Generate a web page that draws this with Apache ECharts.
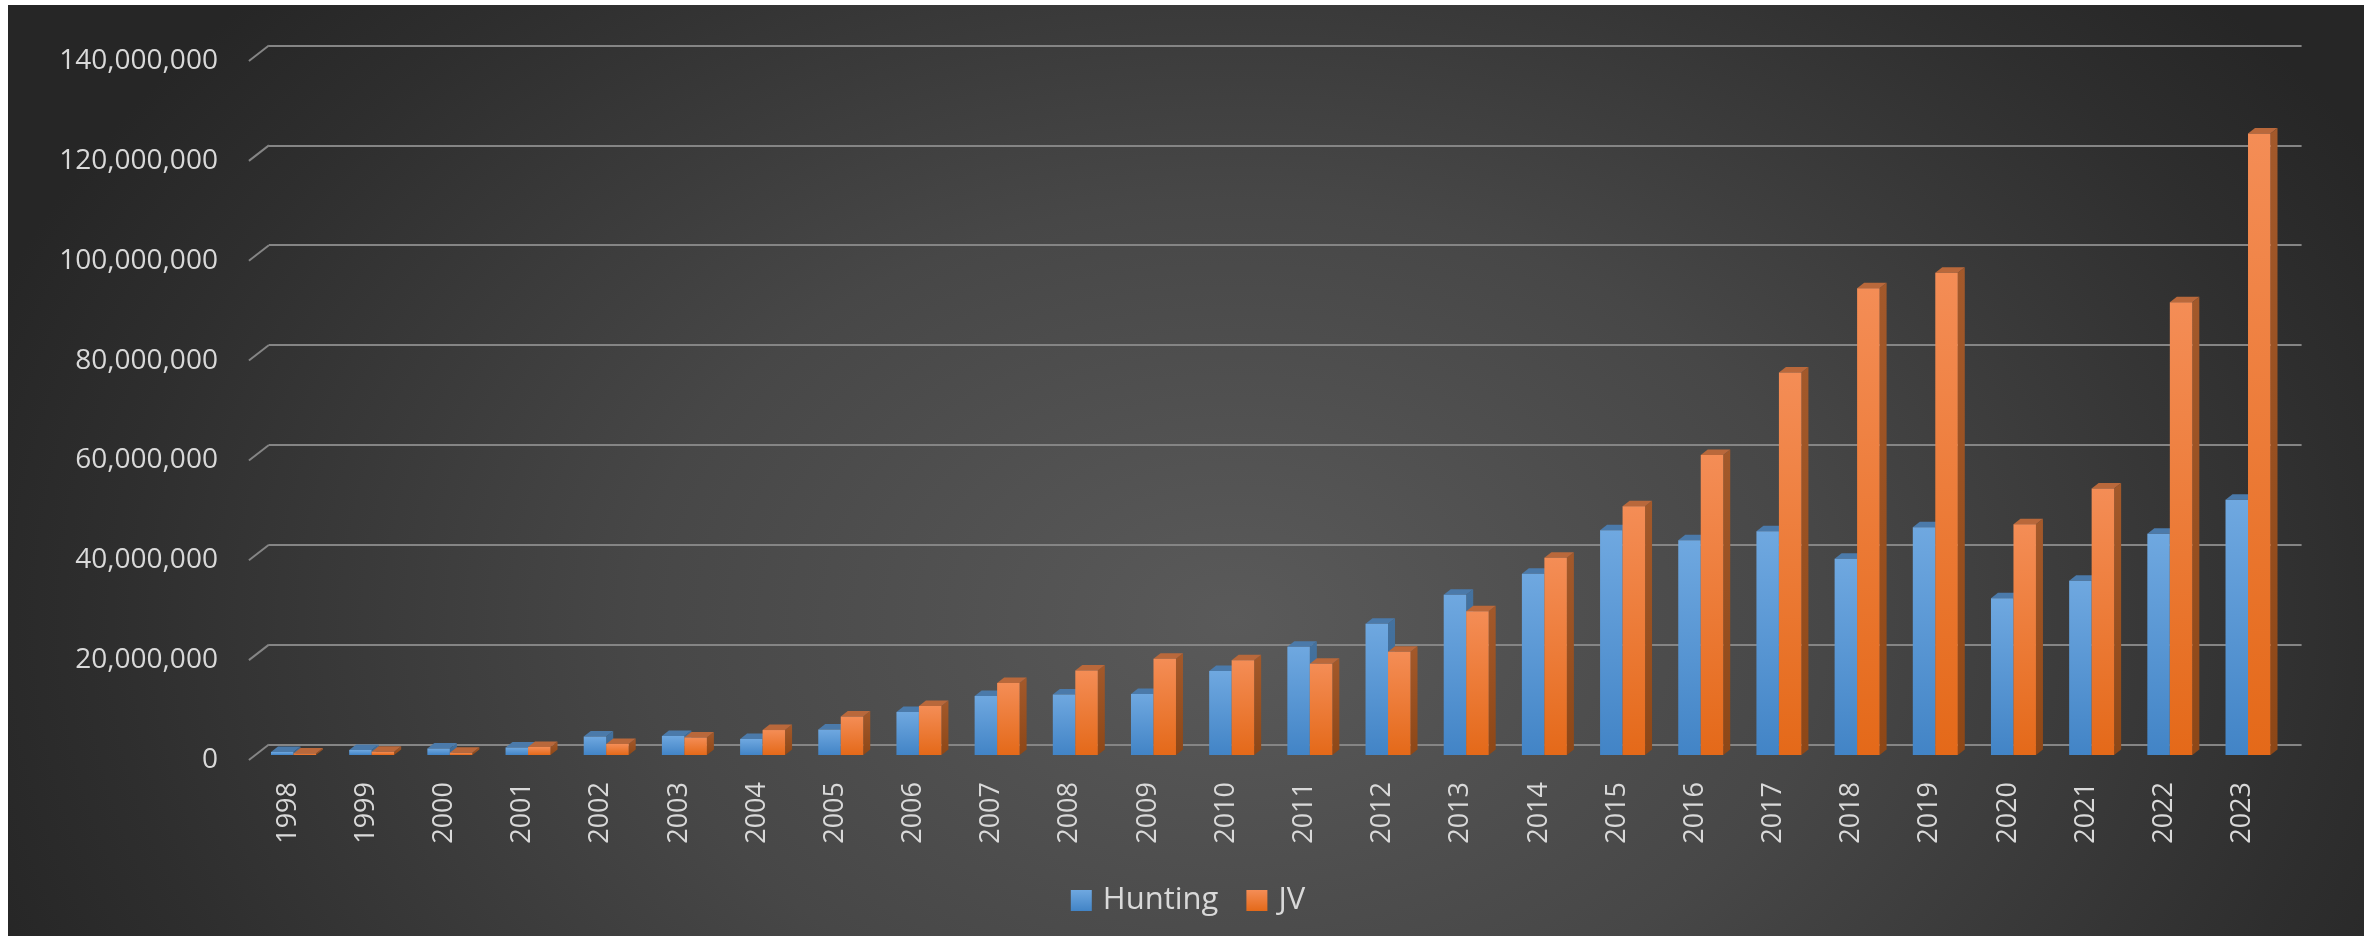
<!DOCTYPE html>
<html>
<head>
<meta charset="utf-8">
<script src="https://cdn.jsdelivr.net/npm/echarts@6/dist/echarts.min.js"></script>
<style>
  html, body { margin: 0; padding: 0; background: #ffffff; }
  #bg { position: absolute; left: 8px; top: 5px; width: 2356px; height: 931px;
        background: radial-gradient(ellipse 56% 100% at 52% 66%, #5a5a5a 0%, #474747 45%, #2e2e2e 85%, #262626 100%); }
  #chart { position: absolute; left: 0; top: 0; width: 2376px; height: 940px; }
</style>
</head>
<body>
<div id="bg"></div>
<div id="chart"></div>
<script>
// ---- data ----
const years = ['1998','1999','2000','2001','2002','2003','2004','2005','2006','2007','2008','2009','2010',
               '2011','2012','2013','2014','2015','2016','2017','2018','2019','2020','2021','2022','2023'];
const hunting = [600000, 1000000, 1300000, 1500000, 3700000, 3800000, 3200000, 5100000, 8600000, 11800000,
                 12100000, 12200000, 16800000, 21700000, 26300000, 32100000, 36300000, 45000000, 43000000,
                 44800000, 39300000, 45600000, 31400000, 34900000, 44300000, 51100000];
const jv = [300000, 650000, 450000, 1600000, 2200000, 3500000, 5000000, 7700000, 9800000, 14400000,
            16900000, 19300000, 19000000, 18300000, 20700000, 28800000, 39500000, 49800000, 60100000,
            76600000, 93500000, 96600000, 46200000, 53400000, 90700000, 124500000];
const yTicks = [0, 20000000, 40000000, 60000000, 80000000, 100000000, 120000000, 140000000];
const seriesNames = ['Hunting', 'JV'];

// ---- style ----
const FONT = 'Open Sans';
const TXT = '#d9d9d9';
const GRIDC = '#858585';
const DX = 7, DY = 5.5;          // bar depth offset
const BACK_DX = 20, BACK_DY = 15.5;
const palette = [
  { front: ['#6fa8e0', '#4284c6'], top: '#4b7aaa', side: ['#44729f', '#3a6591'] },
  { front: ['#f48d56', '#e46919'], top: '#b9683b', side: ['#a3592b', '#8d4717'] }
];
const grad = (a, b) => new echarts.graphic.LinearGradient(0, 0, 0, 1, [{ offset: 0, color: a }, { offset: 1, color: b }]);

const chart = echarts.init(document.getElementById('chart'), null, { renderer: 'canvas' });

function barRender(sIdx) {
  return function (params, api) {
    const i = api.value(0), v = api.value(1);
    const top = api.coord([i, v]);
    const base = api.coord([i, 0]);
    const bw = api.size([1, 0])[0] * 0.2877;
    const x = top[0] + (sIdx === 0 ? -bw : 0);
    const yt = top[1], yb = base[1];
    const p = palette[sIdx];
    return {
      type: 'group',
      children: [
        { type: 'polygon', shape: { points: [[x + bw, yt], [x + bw + DX, yt - DY], [x + bw + DX, yb - DY], [x + bw, yb]] },
          style: { fill: grad(p.side[0], p.side[1]) } },
        { type: 'polygon', shape: { points: [[x, yt], [x + DX, yt - DY], [x + bw + DX, yt - DY], [x + bw, yt]] },
          style: { fill: p.top } },
        { type: 'rect', shape: { x: x, y: yt, width: bw, height: Math.max(yb - yt, 0) },
          style: { fill: grad(p.front[0], p.front[1]) } }
      ]
    };
  };
}

const option = {
  backgroundColor: 'transparent',
  animation: false,
  textStyle: { fontFamily: FONT },
  grid: [
    { left: 248.9, right: 94.4, top: 61, bottom: 180 },      // front plane: labels
    { left: 268.9, right: 74.4, top: 45.5, bottom: 195.5 },  // back plane: gridlines
    { left: 254.4, right: 88.9, top: 56, bottom: 185 }       // bar plane
  ],
  xAxis: [
    { type: 'category', gridIndex: 0, data: years, axisLine: { show: false }, axisTick: { show: false },
      axisLabel: { rotate: 90, margin: 22, color: TXT, fontSize: 27, fontFamily: FONT, interval: 0 } },
    { type: 'category', gridIndex: 1, data: years, show: false },
    { type: 'category', gridIndex: 2, data: years, show: false }
  ],
  yAxis: [
    { type: 'value', gridIndex: 0, min: 0, max: 140000000, interval: 20000000,
      axisLine: { show: false }, axisTick: { show: false }, splitLine: { show: false },
      axisLabel: { margin: 31, color: TXT, fontSize: 28, fontFamily: FONT,
                   formatter: v => v.toLocaleString('en-US') } },
    { type: 'value', gridIndex: 1, min: 0, max: 140000000, interval: 20000000,
      axisLine: { show: false }, axisTick: { show: false }, axisLabel: { show: false },
      splitLine: { show: true, lineStyle: { color: GRIDC, width: 2 } } },
    { type: 'value', gridIndex: 2, min: 0, max: 140000000, interval: 20000000, show: false,
      splitLine: { show: false } }
  ],
  legend: {
    left: 'center', top: 880, icon: 'rect', itemWidth: 21, itemHeight: 21, itemGap: 28,
    textStyle: { color: TXT, fontSize: 31, fontFamily: FONT, padding: [0, 0, 0, 6], lineHeight: 31 },
    data: seriesNames.map((n, k) => ({ name: n, itemStyle: { color: grad(palette[k].front[0], palette[k].front[1]) } }))
  },
  series: [
    { type: 'custom', name: 'diag', xAxisIndex: 0, yAxisIndex: 0, silent: true, z: 1,
      data: yTicks.map(v => [0, v]),
      renderItem: function (params, api) {
        const y = api.coord([0, api.value(1)])[1];
        const x0 = params.coordSys.x;
        return { type: 'line', shape: { x1: x0, y1: y, x2: x0 + BACK_DX, y2: y - BACK_DY },
                 style: { stroke: GRIDC, lineWidth: 2 } };
      } },
    { type: 'custom', name: seriesNames[0], xAxisIndex: 2, yAxisIndex: 2, z: 3,
      itemStyle: { color: palette[0].front[1] },
      data: hunting.map((v, i) => [i, v]), encode: { x: 0, y: 1 }, renderItem: barRender(0) },
    { type: 'custom', name: seriesNames[1], xAxisIndex: 2, yAxisIndex: 2, z: 4,
      itemStyle: { color: palette[1].front[1] },
      data: jv.map((v, i) => [i, v]), encode: { x: 0, y: 1 }, renderItem: barRender(1) }
  ]
};
chart.setOption(option);
</script>
</body>
</html>
